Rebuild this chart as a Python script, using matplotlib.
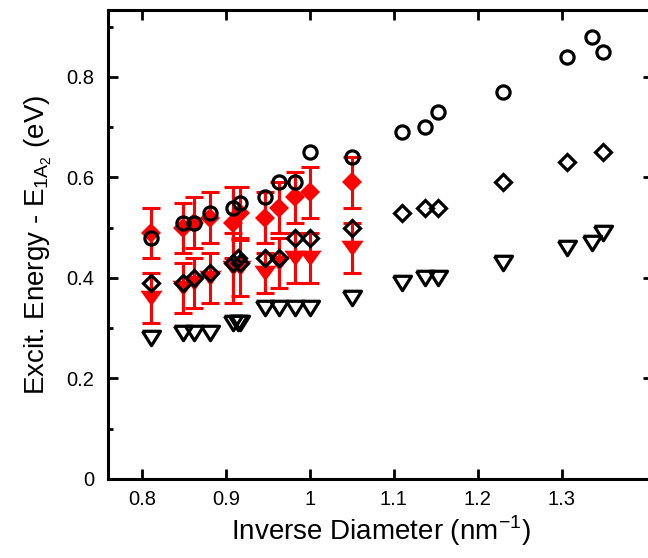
import matplotlib
matplotlib.use('Agg')
import matplotlib.pyplot as plt
from matplotlib.ticker import MultipleLocator, FixedLocator, FuncFormatter

plt.rcParams['font.family'] = ['Liberation Sans', 'DejaVu Sans']
plt.rcParams['mathtext.fontset'] = 'custom'
plt.rcParams['mathtext.rm'] = 'Liberation Sans'

# black open symbols
circ_x = [0.810, 0.849, 0.861, 0.881, 0.908, 0.917, 0.946, 0.963, 0.982, 1.000,
          1.050, 1.110, 1.137, 1.152, 1.230, 1.307, 1.336, 1.349]
circ_y = [0.48, 0.51, 0.51, 0.53, 0.54, 0.55, 0.56, 0.59, 0.59, 0.65,
          0.64, 0.69, 0.70, 0.73, 0.77, 0.84, 0.88, 0.85]

diam_x = [0.810, 0.849, 0.861, 0.881, 0.908, 0.914, 0.917, 0.946, 0.963, 0.982,
          1.000, 1.050, 1.110, 1.137, 1.152, 1.230, 1.307, 1.349]
diam_y = [0.39, 0.39, 0.40, 0.41, 0.43, 0.44, 0.43, 0.44, 0.44, 0.48,
          0.48, 0.50, 0.53, 0.54, 0.54, 0.59, 0.63, 0.65]

tri_x = [0.810, 0.849, 0.861, 0.881, 0.908, 0.914, 0.917, 0.946, 0.963, 0.982,
         1.000, 1.050, 1.110, 1.137, 1.152, 1.230, 1.307, 1.336, 1.349]
tri_y = [0.28, 0.29, 0.29, 0.29, 0.31, 0.31, 0.31, 0.34, 0.34, 0.34,
         0.34, 0.36, 0.39, 0.40, 0.40, 0.43, 0.46, 0.47, 0.49]

# red filled symbols with error bars
red_x = [0.810, 0.849, 0.861, 0.881, 0.908, 0.917, 0.946, 0.963, 0.982, 1.000, 1.050]
red_d = [0.49, 0.50, 0.51, 0.52, 0.51, 0.53, 0.52, 0.54, 0.56, 0.57, 0.59]
red_d_err = [0.05, 0.05, 0.05, 0.05, 0.07, 0.05, 0.05, 0.05, 0.05, 0.05, 0.05]
red_t = [0.36, 0.38, 0.39, 0.40, 0.42, 0.42, 0.41, 0.43, 0.44, 0.44, 0.46]
red_t_err = [0.05, 0.05, 0.05, 0.05, 0.07, 0.055, 0.04, 0.05, 0.05, 0.05, 0.05]

x_ticks = [0.8, 0.9, 1.0, 1.1, 1.2, 1.3]

wide_tri = [(-1, 0.7), (1, 0.7), (0, -0.7), (-1, 0.7)]
tri_black = [(-1, 0.8), (1, 0.8), (0, -0.8), (-1, 0.8)]

fig = plt.figure(figsize=(6.48, 5.58), dpi=100)
ax = fig.add_axes([108 / 648, 79 / 558, 545 / 648, 469 / 558])

red = '#ff0000'
ax.errorbar(red_x, red_d, yerr=red_d_err, fmt='none', ecolor=red,
            elinewidth=2.2, capsize=6.2, capthick=2.2, zorder=2)
ax.errorbar(red_x, red_t, yerr=red_t_err, fmt='none', ecolor=red,
            elinewidth=2.2, capsize=6.2, capthick=2.2, zorder=2)
ax.plot(red_x, red_d, ls='none', marker='D', ms=10.5, color=red, mew=0, zorder=3)
ax.plot(red_x, red_t, ls='none', marker=wide_tri, ms=16, color=red, mew=0, zorder=3)

ax.plot(circ_x, circ_y, ls='none', marker='o', ms=9.5, mfc='none', mec='black', mew=2.3, zorder=4)
ax.plot(diam_x, diam_y, ls='none', marker='D', ms=8, mfc='none', mec='black', mew=2.3, zorder=4)
ax.plot(tri_x, tri_y, ls='none', marker=tri_black, ms=13, mfc='none', mec='black', mew=2.3, zorder=4)

ax.set_xlim(0.759, 1.409)
ax.set_ylim(0, 0.933)

ax.xaxis.set_major_locator(FixedLocator(x_ticks))
ax.yaxis.set_major_locator(MultipleLocator(0.2))
ax.yaxis.set_minor_locator(MultipleLocator(0.1))
fmt = FuncFormatter(lambda v, p: '%g' % round(v, 3))
ax.xaxis.set_major_formatter(fmt)
ax.yaxis.set_major_formatter(fmt)

ax.tick_params(which='both', direction='in', top=True, right=True, width=2, labelsize=14.5)
ax.tick_params(which='major', length=7)
ax.tick_params(which='minor', length=3.5)
ax.tick_params(axis='x', pad=8)
ax.tick_params(axis='y', pad=10)
for s in ax.spines.values():
    s.set_linewidth(2.2)

ax.set_xlabel(r'Inverse Diameter (nm$^{\mathregular{-1}}$)', fontsize=20, labelpad=3)
ax.set_ylabel(r'Excit. Energy - $\mathregular{E_{1A_2}}$ (eV)', fontsize=20, labelpad=9)

fig.savefig('out.png', dpi=100)
